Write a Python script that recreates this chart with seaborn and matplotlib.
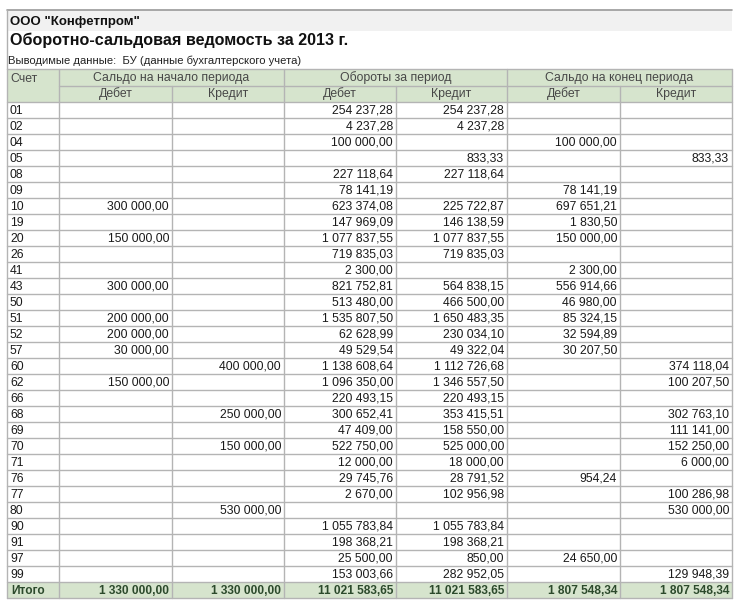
import numpy as np
import matplotlib
matplotlib.use('Agg')
import matplotlib.pyplot as plt
from matplotlib.patches import Rectangle
import seaborn as sns

# ---- data ------------------------------------------------------------
company = 'ООО "Конфетпром"'
title = 'Оборотно-сальдовая ведомость за 2013 г.'
subtitle = 'Выводимые данные:  БУ (данные бухгалтерского учета)'

group_labels = ['Сальдо на начало периода', 'Обороты за период', 'Сальдо на конец периода']
side_labels = ['Дебет', 'Кредит']

accounts = ['01', '02', '04', '05', '08', '09', '10', '19', '20', '26',
            '41', '43', '50', '51', '52', '57', '60', '62', '66', '68',
            '69', '70', '71', '76', '77', '80', '90', '91', '97', '99']

nan = np.nan
open_debit = [nan, nan, nan, nan, nan, nan, 300000.00, nan, 150000.00, nan,
              nan, 300000.00, nan, 200000.00, 200000.00, 30000.00, nan, 150000.00, nan, nan,
              nan, nan, nan, nan, nan, nan, nan, nan, nan, nan]
open_credit = [nan, nan, nan, nan, nan, nan, nan, nan, nan, nan,
               nan, nan, nan, nan, nan, nan, 400000.00, nan, nan, 250000.00,
               nan, 150000.00, nan, nan, nan, 530000.00, nan, nan, nan, nan]
turn_debit = [254237.28, 4237.28, 100000.00, nan, 227118.64, 78141.19, 623374.08, 147969.09, 1077837.55, 719835.03,
              2300.00, 821752.81, 513480.00, 1535807.50, 62628.99, 49529.54, 1138608.64, 1096350.00, 220493.15, 300652.41,
              47409.00, 522750.00, 12000.00, 29745.76, 2670.00, nan, 1055783.84, 198368.21, 25500.00, 153003.66]
turn_credit = [254237.28, 4237.28, nan, 833.33, 227118.64, nan, 225722.87, 146138.59, 1077837.55, 719835.03,
               nan, 564838.15, 466500.00, 1650483.35, 230034.10, 49322.04, 1112726.68, 1346557.50, 220493.15, 353415.51,
               158550.00, 525000.00, 18000.00, 28791.52, 102956.98, nan, 1055783.84, 198368.21, 850.00, 282952.05]
close_debit = [nan, nan, 100000.00, nan, nan, 78141.19, 697651.21, 1830.50, 150000.00, nan,
               2300.00, 556914.66, 46980.00, 85324.15, 32594.89, 30207.50, nan, nan, nan, nan,
               nan, nan, nan, 954.24, nan, nan, nan, nan, 24650.00, nan]
close_credit = [nan, nan, nan, 833.33, nan, nan, nan, nan, nan, nan,
                nan, nan, nan, nan, nan, nan, 374118.04, 100207.50, nan, 302763.10,
                111141.00, 152250.00, 6000.00, nan, 100286.98, 530000.00, nan, nan, nan, 129948.39]

total_label = 'Итого'
totals = [1330000.00, 1330000.00, 11021583.65, 11021583.65, 1807548.34, 1807548.34]

columns = [open_debit, open_credit, turn_debit, turn_credit, close_debit, close_credit]


def fmt(v):
    if v is None or np.isnan(v):
        return ''
    s = f'{v:,.2f}'
    return s.replace(',', ' ').replace('.', ',')


# ---- look ------------------------------------------------------------
sns.set_theme(style='white')
plt.rcParams['font.family'] = ['Liberation Sans', 'DejaVu Sans']

green = '#d6e4cd'
grid = '#b4b4b4'
ink = '#1a1a1a'
head_ink = '#474747'
total_ink = '#2c4a2c'

col_x = [7, 59, 172, 284, 396, 507, 620, 732]
head_top, head_mid, body_top = 69, 86, 101.5
row_h = 16.0
base = 12.0          # baseline offset from the top of a row
fs = 8.8

fig = plt.figure(figsize=(7.44, 6.14), dpi=100)
ax = fig.add_axes([0, 0, 1, 1])
ax.set_xlim(0, 744)
ax.set_ylim(614, 0)
ax.axis('off')

# top banner
ax.add_patch(Rectangle((7, 10), 725, 21, facecolor='#f1f1f1', edgecolor='none'))
ax.plot([7, 732], [10, 10], color='#9a9a9a', lw=1.2)
ax.plot([7, 7], [10, head_top], color='#b0b0b0', lw=1)
ax.text(10, 24.5, company, fontsize=9.5, fontweight='bold', color='#111111', va='baseline')
ax.text(10, 45.5, title, fontsize=11.6, fontweight='bold', color='#111111', va='baseline')
ax.text(8, 63.5, subtitle, fontsize=8.1, color='#222222', va='baseline')

n = len(accounts)
body_bottom = body_top + n * row_h
total_bottom = body_bottom + row_h

# backgrounds
ax.add_patch(Rectangle((col_x[0], head_top), col_x[-1] - col_x[0], body_top - head_top,
                       facecolor=green, edgecolor='none'))
ax.add_patch(Rectangle((col_x[0], body_bottom), col_x[-1] - col_x[0], row_h,
                       facecolor=green, edgecolor='none'))

# horizontal lines
ax.plot([col_x[0], col_x[-1]], [head_top, head_top], color=grid, lw=1)
ax.plot([col_x[1], col_x[-1]], [head_mid, head_mid], color=grid, lw=1)
for i in range(n + 2):
    y = body_top + i * row_h
    ax.plot([col_x[0], col_x[-1]], [y, y], color=grid, lw=1)

# vertical lines
for j, x in enumerate(col_x):
    top = head_top if j in (0, 1, 3, 5, 7) else head_mid
    ax.plot([x, x], [top, total_bottom], color=grid, lw=1)

# header text
ax.text(col_x[0] + 3, head_top + 12.5, 'Счет', fontsize=fs, color=head_ink, va='baseline')
for g, label in enumerate(group_labels):
    xc = (col_x[1 + 2 * g] + col_x[3 + 2 * g]) / 2
    ax.text(xc, head_top + 12.5, label, fontsize=fs, color=head_ink, ha='center', va='baseline')
    for k, side in enumerate(side_labels):
        j = 1 + 2 * g + k
        ax.text((col_x[j] + col_x[j + 1]) / 2, head_mid + 11.5, side,
                fontsize=fs, color=head_ink, ha='center', va='baseline')

# body
for i, acc in enumerate(accounts):
    yb = body_top + i * row_h + base
    ax.text(col_x[0] + 3, yb, acc, fontsize=fs, color=ink, va='baseline')
    for j, values in enumerate(columns):
        ax.text(col_x[j + 2] - 3, yb, fmt(values[i]), fontsize=fs, color=ink,
                ha='right', va='baseline')

# totals
yb = body_bottom + base
ax.text(col_x[0] + 4, yb, total_label, fontsize=8.6, fontweight='bold', color=total_ink, va='baseline')
for j, v in enumerate(totals):
    ax.text(col_x[j + 2] - 3, yb, fmt(v), fontsize=8.6, fontweight='bold', color=total_ink,
            ha='right', va='baseline')

fig.savefig('out.png', dpi=100, facecolor='white')
